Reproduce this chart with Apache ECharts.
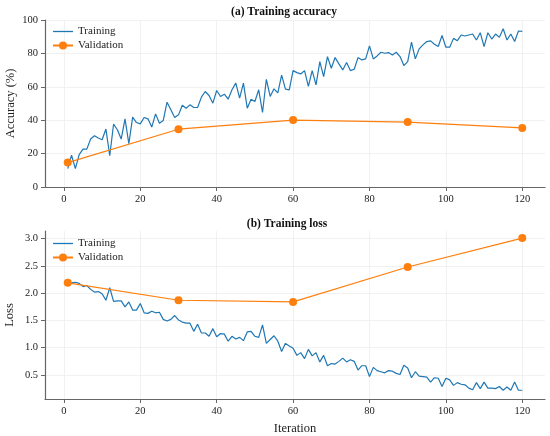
<!DOCTYPE html>
<html>
<head>
<meta charset="utf-8">
<script src="https://cdn.jsdelivr.net/npm/echarts@6/dist/echarts.min.js"></script>
<style>
  html, body { margin: 0; padding: 0; background: #fff; }
  #chart { width: 550px; height: 436px; }
</style>
</head>
<body>
<div id="chart"></div>
<script>
// values, iterations 1..120
const trainAcc = [
  11, 19, 11, 19.4, 22.7, 22.7, 28.7, 30.7, 29.3, 28.3,
  34.7, 18.7, 37.6, 34.3, 28.7, 40.8, 25.9, 41.8, 38.6, 37.8,
  41.6, 40.8, 35.9, 43.8, 38.2, 39.8, 50.8, 46.2, 41.6, 43.2,
  49, 47.2, 49.2, 47.6, 47.6, 53.8, 57.2, 54.8, 50.2, 57.8,
  54.2, 55.6, 52.6, 58.2, 62.2, 53.2, 62.2, 47.2, 52.6, 51.2,
  58.2, 44.6, 64.5, 54.2, 58.8, 56.4, 67, 58.6, 58.2, 69.7,
  68.5, 67.7, 69.7, 60.2, 69.7, 61.2, 75.1, 66.1, 78.1, 71.1,
  77.5, 73.7, 70.1, 74.5, 69.7, 70.5, 77.5, 76.1, 76.7, 84.5,
  76.7, 78.5, 80.7, 80.1, 80.5, 79.1, 80.7, 78.1, 72.7, 75.1,
  86.7, 76.7, 82.7, 85.1, 87.1, 87.5, 85.5, 84.1, 90.7, 83.7,
  83.7, 89, 87.6, 91, 90.4, 91, 91.6, 88, 92.4, 84.1,
  92.4, 88.6, 91.6, 89.6, 94.8, 88, 91.6, 87.1, 93.4, 93.2
];
const trainLoss = [
  2.20, 2.19, 2.20, 2.18, 2.12, 2.14, 2.07, 2.02, 2.03, 1.99,
  1.87, 2.10, 1.85, 1.86, 1.86, 1.75, 1.84, 1.69, 1.69, 1.81,
  1.64, 1.63, 1.67, 1.64, 1.65, 1.52, 1.49, 1.52, 1.59, 1.51,
  1.47, 1.45, 1.45, 1.30, 1.43, 1.27, 1.27, 1.21, 1.35, 1.20,
  1.26, 1.25, 1.12, 1.21, 1.16, 1.19, 1.13, 1.29, 1.30, 1.21,
  1.19, 1.42, 1.08, 1.15, 1.22, 1.12, 0.93, 1.08, 1.03, 0.99,
  0.86, 0.91, 0.80, 0.97, 0.85, 0.91, 0.74, 0.86, 0.67, 0.71,
  0.70, 0.75, 0.81, 0.74, 0.78, 0.75, 0.59, 0.67, 0.67, 0.47,
  0.64, 0.58, 0.56, 0.54, 0.58, 0.57, 0.53, 0.51, 0.68, 0.63,
  0.45, 0.56, 0.48, 0.47, 0.46, 0.37, 0.45, 0.44, 0.29, 0.44,
  0.41, 0.31, 0.36, 0.33, 0.32, 0.26, 0.23, 0.36, 0.25, 0.37,
  0.26, 0.26, 0.25, 0.29, 0.22, 0.28, 0.22, 0.37, 0.22, 0.22
];
const valIter = [1, 30, 60, 90, 120];
const valAcc = [14.6, 34.6, 40.1, 38.9, 35.4];
const valLoss = [2.19, 1.87, 1.84, 2.48, 3.01];

const xTicks = [0, 20, 40, 60, 80, 100, 120];
const lossTicks = [0.5, 1.0, 1.5, 2.0, 2.5, 3.0];

const BLUE = '#1f77b4';
const ORANGE = '#ff7f0e';
const FONT = 'Liberation Serif';
const LINE_ICON = 'path://M0,0L20,0L20,1.3L0,1.3Z';

const pairs = (vals) => vals.map((v, i) => [i + 1, v]);
const valPairs = (vals) => vals.map((v, i) => [valIter[i], v]);

const axisLine = { show: true, onZero: false, lineStyle: { color: '#666', width: 1.2 } };
const axisTick = { show: true, inside: false, length: 4, lineStyle: { color: '#666', width: 1 } };
const splitLine = { show: true, lineStyle: { color: '#eeeeee', width: 0.8 } };
const tickLabel = { color: '#222', fontFamily: FONT, fontSize: 10.5, margin: 7 };
const nameStyle = { color: '#222', fontFamily: FONT, fontSize: 12.5 };

function xAxisFor(gridIndex, withName) {
  return {
    type: 'value', gridIndex,
    min: -4.95, max: 125.95,
    axisLine, splitLine,
    axisTick: { ...axisTick, customValues: xTicks },
    axisLabel: { ...tickLabel, customValues: xTicks },
    name: withName ? 'Iteration' : '',
    nameLocation: 'middle', nameGap: 23, nameMoveOverlap: false,
    nameTextStyle: nameStyle
  };
}

function legendFor(top, suffix) {
  return {
    data: [
      { name: 'Training' + suffix, icon: LINE_ICON },
      { name: 'Validation' + suffix }
    ],
    orient: 'vertical', left: 52, top, padding: 0,
    itemWidth: 20, itemHeight: 10, itemGap: 3,
    textStyle: { fontFamily: FONT, fontSize: 11, color: '#222' }
  };
}

const chart = echarts.init(document.getElementById('chart'), null, { renderer: 'canvas' });
chart.setOption({
  animation: false,
  backgroundColor: '#fff',
  textStyle: { fontFamily: FONT },
  title: [
    { text: '(a) Training accuracy', left: 279, top: 1, textAlign: 'center',
      textStyle: { fontFamily: FONT, fontSize: 11.5, fontWeight: 'bold', color: '#111' } },
    { text: '(b) Training loss', left: 282, top: 213, textAlign: 'center',
      textStyle: { fontFamily: FONT, fontSize: 11.5, fontWeight: 'bold', color: '#111' } }
  ],
  grid: [
    { left: 45, top: 20, width: 500, height: 167, containLabel: false, outerBoundsMode: 'none' },
    { left: 45, top: 231, width: 500, height: 168, containLabel: false, outerBoundsMode: 'none' }
  ],
  legend: [legendFor(26, ''), legendFor(238, ' ')],
  xAxis: [xAxisFor(0, false), xAxisFor(1, true)],
  yAxis: [
    { type: 'value', gridIndex: 0, min: 0, max: 100, interval: 20,
      axisLine, axisTick, splitLine, axisLabel: tickLabel,
      name: 'Accuracy (%)', nameLocation: 'middle', nameGap: 28, nameMoveOverlap: false,
      nameTextStyle: nameStyle },
    { type: 'value', gridIndex: 1, min: 0.06, max: 3.14,
      axisLine, splitLine,
      axisTick: { ...axisTick, customValues: lossTicks },
      axisLabel: { ...tickLabel, customValues: lossTicks, formatter: (v) => v.toFixed(1) },
      name: 'Loss', nameLocation: 'middle', nameGap: 29, nameMoveOverlap: false,
      nameTextStyle: nameStyle }
  ],
  series: [
    { name: 'Training', type: 'line', xAxisIndex: 0, yAxisIndex: 0,
      data: pairs(trainAcc), showSymbol: false, symbol: 'none',
      lineStyle: { color: BLUE, width: 1.2 }, itemStyle: { color: BLUE } },
    { name: 'Validation', type: 'line', xAxisIndex: 0, yAxisIndex: 0,
      data: valPairs(valAcc), symbol: 'circle', symbolSize: 8,
      lineStyle: { color: ORANGE, width: 1.2 }, itemStyle: { color: ORANGE } },
    { name: 'Training ', type: 'line', xAxisIndex: 1, yAxisIndex: 1,
      data: pairs(trainLoss), showSymbol: false, symbol: 'none',
      lineStyle: { color: BLUE, width: 1.2 }, itemStyle: { color: BLUE } },
    { name: 'Validation ', type: 'line', xAxisIndex: 1, yAxisIndex: 1,
      data: valPairs(valLoss), symbol: 'circle', symbolSize: 8,
      lineStyle: { color: ORANGE, width: 1.2 }, itemStyle: { color: ORANGE } }
  ]
});
</script>
</body>
</html>
